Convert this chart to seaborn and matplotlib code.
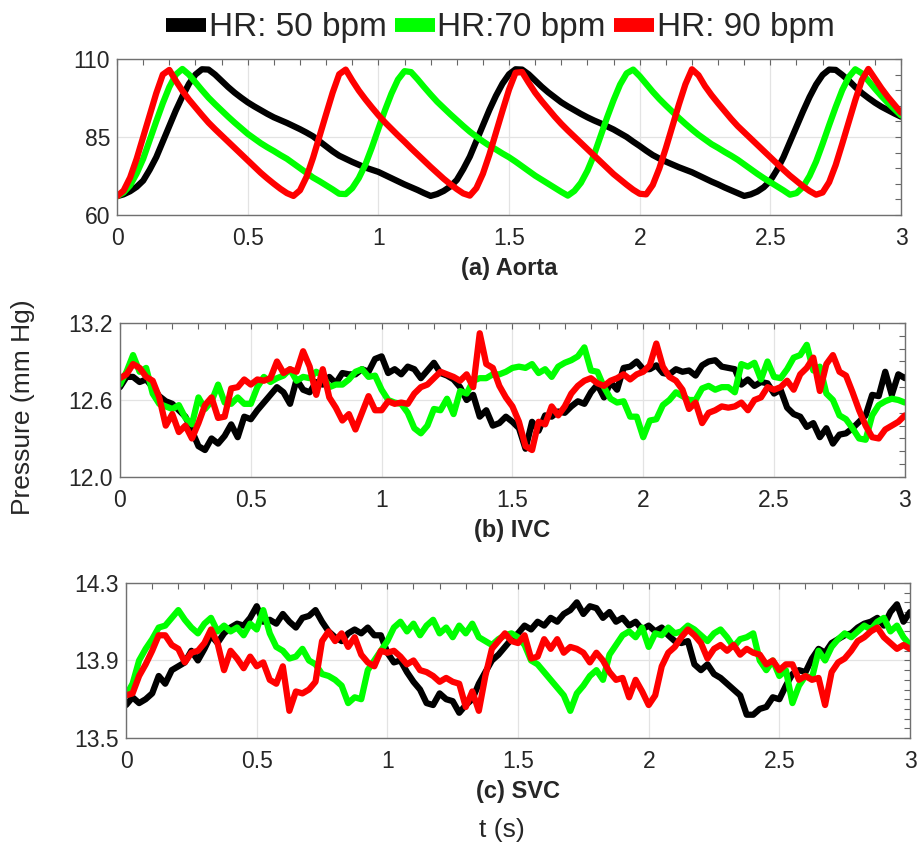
import numpy as np
import pandas as pd
import seaborn as sns
import matplotlib
matplotlib.use("Agg")
import matplotlib.pyplot as plt
from matplotlib.lines import Line2D
from matplotlib.ticker import FixedLocator, MultipleLocator, FuncFormatter, FormatStrFormatter

# legend entries
hr_labels = ["HR: 50 bpm", "HR:70 bpm", "HR: 90 bpm"]
hr_colors = ["#000000", "#00ff00", "#ff0000"]

# all traces sampled every 0.025 s over 0-3 s
t = np.linspace(0, 3, 121)

# (a) Aorta
aorta_50 = [66.0, 66.6, 67.6, 69.0, 71.0, 74.5, 78.5, 83.5, 88.5, 93.5,
            98.0, 102.0, 105.0, 106.7, 106.6, 105.0, 103.0, 101.0, 99.2, 97.6,
            96.1, 94.8, 93.6, 92.4, 91.3, 90.4, 89.5, 88.5, 87.5, 86.4,
            85.2, 83.6, 82.0, 80.4, 79.0, 78.0, 77.0, 76.1, 75.2, 74.5,
            73.8, 72.8, 71.8, 70.8, 69.8, 68.9, 68.0, 67.0,
            66.1, 66.7, 67.7, 69.1, 71.2, 74.7, 78.7, 83.7, 88.7, 93.7,
            98.2, 102.1, 105.1, 106.7, 106.6, 105.1, 103.1, 101.1, 99.3, 97.7,
            96.1, 94.8, 93.6, 92.4, 91.3, 90.3, 89.4, 88.4, 87.4, 86.2,
            85.0, 83.5, 82.1, 80.6, 79.2, 78.1, 77.1, 76.2, 75.3, 74.5,
            73.7, 72.7, 71.7, 70.7, 69.8, 68.8, 67.9, 67.0,
            66.1, 66.6, 67.5, 68.9, 71.0, 74.4, 78.5, 83.4, 88.3, 93.2,
            97.8, 101.8, 104.9, 106.6, 106.5, 104.9, 103.1, 101.0, 99.1, 97.5,
            96.0, 94.7, 93.6, 92.5, 91.5]
aorta_70 = [66.0, 67.2, 69.5, 73.3, 78.0, 84.0, 90.0, 95.8, 101.0, 105.0,
            106.8, 105.0, 102.5, 100.0, 97.6, 95.5, 93.5, 91.5, 89.6, 87.8,
            86.0, 84.5, 83.0, 81.7, 80.5, 79.2, 78.0, 76.5, 75.0, 73.5,
            72.0, 70.8, 69.5, 68.2, 66.8,
            66.7, 68.6, 71.8, 76.1, 81.6, 87.6, 93.5, 98.9, 103.4, 106.1,
            105.8, 103.5, 101.0, 98.6, 96.3, 94.3, 92.3, 90.4, 88.5, 86.7,
            85.1, 83.6, 82.2, 81.0, 79.7, 78.5, 77.1, 75.6, 74.1, 72.6,
            71.3, 70.0, 68.7, 67.4,
            66.2, 67.7, 70.3, 74.2, 79.2, 85.2, 91.2, 96.8, 101.8, 105.4,
            106.6, 104.5, 102.0, 99.5, 97.2, 95.1, 93.1, 91.1, 89.2, 87.4,
            85.7, 84.2, 82.7, 81.5, 80.2, 79.0, 77.7, 76.2, 74.7, 73.2,
            71.8, 70.5, 69.2, 67.9, 66.5,
            67.0, 69.0, 72.5, 77.1, 82.8, 88.8, 94.6, 100.0, 104.2, 106.7,
            105.4, 103.0, 100.5, 98.1, 95.9, 93.9, 91.9]
aorta_90 = [66.0, 67.8, 72.0, 78.0, 85.0, 92.0, 99.0, 105.0, 106.5, 103.0,
            99.8, 97.0, 94.5, 92.0, 89.6, 87.5, 85.5, 83.5, 81.5, 79.5,
            77.5, 75.5, 73.5, 71.7, 70.0, 68.4, 67.0,
            66.1, 67.9, 72.2, 78.3, 85.3, 92.3, 99.2, 105.1, 106.6, 103.1,
            99.9, 97.1, 94.5, 92.0, 89.7, 87.6, 85.5, 83.5, 81.4, 79.4,
            77.4, 75.4, 73.5, 71.6, 69.9, 68.3, 66.9,
            66.2, 68.6, 73.2, 79.4, 86.4, 93.4, 100.2, 105.6, 105.8, 102.4,
            99.2, 96.5, 94.0, 91.5, 89.2, 87.1, 85.1, 83.1, 81.1, 79.1,
            77.1, 75.1, 73.1, 71.4, 69.7, 68.1, 66.8,
            66.6, 69.6, 74.9, 81.4, 88.4, 95.4, 101.9, 106.7, 104.8, 101.3,
            98.4, 95.8, 93.3, 90.8, 88.5, 86.5, 84.5, 82.5, 80.5, 78.5,
            76.5, 74.5, 72.6, 70.9, 69.2, 67.7, 66.5,
            67.2, 70.5, 76.0, 82.8, 89.8, 96.8, 103.2, 106.8, 103.7, 100.6,
            97.8, 95.3, 92.8]

# (b) IVC
ivc_50 = [12.70, 12.78, 12.78, 12.74, 12.76, 12.70, 12.63, 12.59, 12.57, 12.52,
          12.47, 12.36, 12.24, 12.21, 12.30, 12.26, 12.32, 12.41, 12.31, 12.47,
          12.45, 12.52, 12.58, 12.64, 12.70, 12.66, 12.57, 12.76, 12.68, 12.66,
          12.74, 12.72, 12.78, 12.73, 12.81, 12.80, 12.80, 12.84, 12.82, 12.92,
          12.94, 12.81, 12.84, 12.80, 12.86, 12.84, 12.77, 12.83, 12.89, 12.81,
          12.79, 12.76, 12.70, 12.60, 12.64, 12.47, 12.52, 12.40, 12.42, 12.47,
          12.43, 12.38, 12.22, 12.43, 12.36, 12.48, 12.47, 12.51, 12.50, 12.55,
          12.59, 12.57, 12.66, 12.72, 12.62, 12.74, 12.68, 12.85, 12.86, 12.90,
          12.84, 12.84, 12.87, 12.81, 12.80, 12.84, 12.82, 12.83, 12.79, 12.87,
          12.90, 12.91, 12.86, 12.85, 12.84, 12.72, 12.76, 12.71, 12.74, 12.73,
          12.65, 12.68, 12.54, 12.49, 12.47, 12.39, 12.42, 12.31, 12.38, 12.26,
          12.33, 12.34, 12.38, 12.43, 12.48, 12.64, 12.63, 12.82, 12.64, 12.80,
          12.77]
ivc_70 = [12.72, 12.82, 12.95, 12.82, 12.85, 12.65, 12.57, 12.55, 12.53, 12.56,
          12.46, 12.41, 12.62, 12.53, 12.59, 12.72, 12.58, 12.57, 12.62, 12.57,
          12.57, 12.70, 12.78, 12.74, 12.77, 12.79, 12.84, 12.75, 12.78, 12.77,
          12.82, 12.79, 12.70, 12.72, 12.72, 12.76, 12.82, 12.84, 12.78, 12.79,
          12.68, 12.60, 12.58, 12.57, 12.50, 12.38, 12.34, 12.40, 12.53, 12.52,
          12.61, 12.49, 12.67, 12.65, 12.75, 12.77, 12.77, 12.80, 12.80, 12.82,
          12.85, 12.86, 12.85, 12.88, 12.81, 12.84, 12.78, 12.86, 12.89, 12.91,
          12.94, 13.01, 12.83, 12.82, 12.70, 12.61, 12.58, 12.59, 12.47, 12.47,
          12.31, 12.44, 12.45, 12.56, 12.60, 12.66, 12.63, 12.60, 12.60, 12.69,
          12.71, 12.68, 12.70, 12.70, 12.66, 12.88, 12.86, 12.89, 12.76, 12.90,
          12.78, 12.77, 12.84, 12.93, 12.95, 13.03, 12.83, 12.86, 12.65, 12.60,
          12.48, 12.45, 12.38, 12.30, 12.29, 12.48, 12.56, 12.59, 12.61, 12.60,
          12.58]
ivc_90 = [12.77, 12.80, 12.88, 12.85, 12.78, 12.75, 12.62, 12.40, 12.49, 12.35,
          12.40, 12.30, 12.42, 12.56, 12.62, 12.46, 12.47, 12.69, 12.70, 12.76,
          12.72, 12.76, 12.75, 12.77, 12.90, 12.81, 12.84, 12.82, 12.98, 12.86,
          12.64, 12.84, 12.62, 12.54, 12.44, 12.49, 12.37, 12.50, 12.63, 12.52,
          12.52, 12.59, 12.57, 12.58, 12.57, 12.65, 12.70, 12.72, 12.77, 12.82,
          12.80, 12.78, 12.75, 12.80, 12.70, 13.12, 12.88, 12.85, 12.71, 12.62,
          12.55, 12.43, 12.24, 12.21, 12.43, 12.41, 12.55, 12.48, 12.55, 12.65,
          12.71, 12.75, 12.77, 12.73, 12.71, 12.75, 12.77, 12.80, 12.76, 12.80,
          12.82, 12.87, 13.04, 12.86, 12.78, 12.75, 12.68, 12.53, 12.58, 12.42,
          12.50, 12.52, 12.55, 12.54, 12.55, 12.58, 12.52, 12.60, 12.62, 12.70,
          12.68, 12.70, 12.75, 12.68, 12.80, 12.85, 12.93, 12.67, 12.88, 12.95,
          12.82, 12.79, 12.66, 12.52, 12.40, 12.31, 12.30, 12.37, 12.40, 12.43,
          12.48]

# (c) SVC
svc_50 = [13.67, 13.71, 13.68, 13.70, 13.73, 13.82, 13.78, 13.85, 13.87, 13.89,
          13.95, 13.90, 13.96, 14.03, 13.99, 14.04, 14.07, 14.09, 14.08, 14.12,
          14.18, 14.10, 14.11, 14.09, 14.14, 14.10, 14.07, 14.12, 14.13, 14.16,
          14.10, 14.05, 14.02, 14.00, 14.04, 14.06, 14.04, 14.07, 14.03, 14.03,
          13.94, 13.89, 13.90, 13.84, 13.79, 13.75, 13.68, 13.67, 13.73, 13.70,
          13.69, 13.63, 13.67, 13.70, 13.78, 13.84, 13.90, 13.93, 13.97, 14.01,
          14.04, 14.08, 14.06, 14.10, 14.08, 14.12, 14.10, 14.14, 14.16, 14.20,
          14.14, 14.18, 14.17, 14.12, 14.15, 14.10, 14.12, 14.08, 14.10, 14.06,
          14.08, 14.05, 14.07, 14.03, 14.00, 13.99, 14.00, 13.88, 13.85, 13.88,
          13.83, 13.81, 13.78, 13.75, 13.72, 13.62, 13.62, 13.65, 13.66, 13.71,
          13.70, 13.77, 13.83, 13.85, 13.84, 13.91, 13.96, 13.94, 13.99, 14.01,
          14.03, 14.04, 14.07, 14.09, 14.10, 14.12, 14.08, 14.15, 14.19, 14.10,
          14.15]
svc_70 = [13.72, 13.78, 13.90, 13.96, 14.01, 14.07, 14.08, 14.12, 14.16, 14.11,
          14.07, 14.04, 14.09, 14.12, 14.05, 14.08, 14.05, 14.07, 14.03, 14.09,
          14.06, 14.16, 14.04, 13.97, 13.95, 13.91, 13.92, 13.96, 13.90, 13.88,
          13.83, 13.82, 13.80, 13.77, 13.68, 13.71, 13.70, 13.85, 13.90, 13.95,
          14.00, 14.07, 14.10, 14.05, 14.09, 14.03, 14.08, 14.11, 14.04, 14.07,
          14.02, 14.08, 14.04, 14.09, 14.02, 14.00, 13.98, 14.01, 14.03, 14.04,
          14.02, 13.98, 13.90, 13.88, 13.84, 13.80, 13.76, 13.72, 13.64, 13.73,
          13.77, 13.82, 13.85, 13.80, 13.93, 13.98, 14.03, 14.05, 14.02, 14.07,
          13.97, 14.04, 14.03, 14.07, 14.04, 14.05, 14.08, 14.06, 14.03, 14.00,
          14.04, 14.06, 14.02, 13.97, 14.01, 14.02, 14.04, 13.90, 13.85, 13.90,
          13.82, 13.85, 13.68, 13.77, 13.82, 13.81, 13.95, 13.90, 13.97, 14.01,
          14.04, 14.02, 14.05, 14.08, 14.06, 14.10, 14.12, 14.05, 14.08, 14.02,
          13.98]
svc_90 = [13.72, 13.73, 13.82, 13.88, 13.95, 14.03, 14.03, 13.98, 13.96, 13.89,
          13.94, 13.95, 13.99, 14.06, 13.99, 13.85, 13.95, 13.91, 13.86, 13.92,
          13.87, 13.89, 13.80, 13.78, 13.87, 13.64, 13.74, 13.73, 13.75, 13.79,
          14.00, 14.05, 14.00, 14.04, 13.97, 14.02, 13.93, 13.89, 13.87, 13.95,
          13.94, 13.95, 13.92, 13.88, 13.90, 13.85, 13.84, 13.82, 13.79, 13.81,
          13.79, 13.78, 13.66, 13.74, 13.64, 13.82, 13.96, 14.00, 14.04, 14.00,
          13.99, 14.03, 13.91, 13.92, 14.01, 13.96, 14.01, 13.94, 13.97, 13.96,
          13.94, 13.89, 13.94, 13.90, 13.84, 13.80, 13.81, 13.71, 13.80, 13.74,
          13.67, 13.72, 13.87, 13.94, 13.97, 14.02, 14.06, 14.03, 13.99, 13.91,
          13.96, 13.98, 13.95, 13.98, 13.93, 13.96, 13.94, 13.93, 13.88, 13.90,
          13.85, 13.88, 13.88, 13.80, 13.82, 13.80, 13.81, 13.67, 13.84, 13.89,
          13.91, 13.95, 14.00, 14.02, 14.05, 14.07, 14.02, 13.99, 13.96, 13.98,
          13.96]


def long_form(series):
    frames = [pd.DataFrame({"t": t, "p": vals, "HR": lab})
              for lab, vals in zip(hr_labels, series)]
    return pd.concat(frames, ignore_index=True)


sns.set_style("white")
plt.rcParams["font.family"] = ["Liberation Sans", "DejaVu Sans"]

fig = plt.figure(figsize=(9.18, 8.46), dpi=100)

panels = [
    # rect, data, ylim, major ticks, minor step, fmt, title
    ([0.1275, 0.7459, 0.854, 0.1844], long_form([aorta_50, aorta_70, aorta_90]),
     (60, 110), [60, 85, 110], 5, "%d", "(a) Aorta"),
    ([0.1307, 0.4362, 0.855, 0.1820], long_form([ivc_50, ivc_70, ivc_90]),
     (12.0, 13.2), [12.0, 12.6, 13.2], 0.1, "%.1f", "(b) IVC"),
    ([0.1373, 0.1277, 0.854, 0.1832], long_form([svc_50, svc_70, svc_90]),
     (13.5, 14.3), [13.5, 13.9, 14.3], 0.05, "%.1f", "(c) SVC"),
]

for rect, df, ylim, yticks, yminor, fmt, title in panels:
    ax = fig.add_axes(rect)
    sns.lineplot(data=df, x="t", y="p", hue="HR", hue_order=hr_labels,
                 palette=dict(zip(hr_labels, hr_colors)), estimator=None,
                 linewidth=4.5, legend=False, ax=ax,
                 solid_joinstyle="round", solid_capstyle="round")
    ax.set_xlim(0, 3)
    ax.set_ylim(*ylim)
    ax.xaxis.set_major_locator(MultipleLocator(0.5))
    ax.xaxis.set_minor_locator(MultipleLocator(0.1))
    ax.xaxis.set_major_formatter(FuncFormatter(lambda v, _: f"{v:g}"))
    ax.yaxis.set_major_locator(FixedLocator(yticks))
    ax.yaxis.set_minor_locator(MultipleLocator(yminor))
    ax.yaxis.set_major_formatter(FormatStrFormatter(fmt))
    ax.grid(True, which="major", color="#e3e3e3", linewidth=0.9)
    ax.set_axisbelow(True)
    ax.tick_params(which="both", direction="in", top=True, right=True,
                   length=4, width=0.8, color="#666666", labelsize=16.5)
    ax.tick_params(axis="x", pad=9)
    ax.tick_params(axis="y", pad=5)
    for s in ax.spines.values():
        s.set_color("#707070")
        s.set_linewidth(1.0)
    ax.set_ylabel("")
    ax.set_xlabel(title, fontsize=17, fontweight="bold", labelpad=5)

handles = [Line2D([0], [0], color=c, linewidth=10, solid_capstyle="butt")
           for c in hr_colors]
fig.legend(handles, hr_labels, loc="upper center", bbox_to_anchor=(0.545, 1.005),
           ncol=3, frameon=False, fontsize=24, handlelength=1.2,
           handletextpad=0.08, columnspacing=0.25, borderaxespad=0.1)

fig.text(0.025, 0.519, "Pressure (mm Hg)", rotation=90, fontsize=19,
         ha="center", va="center")
fig.text(0.547, 0.019, "t (s)", fontsize=19, ha="center", va="center")

fig.savefig("out.png", dpi=100)
